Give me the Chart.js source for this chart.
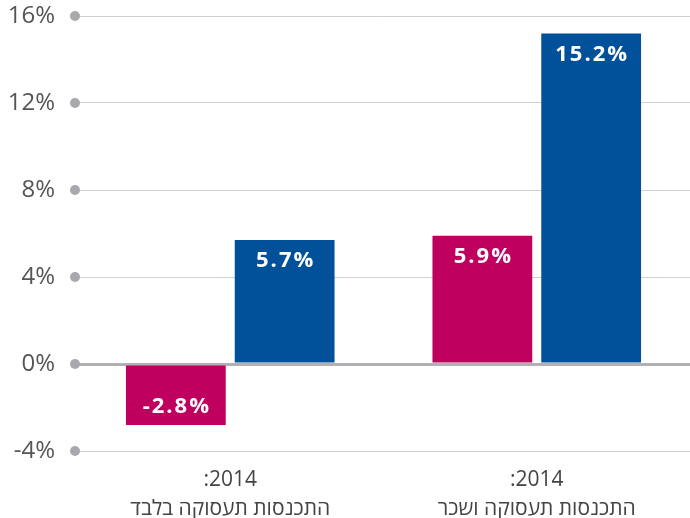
<!DOCTYPE html>
<html>
<head>
<meta charset="utf-8">
<script src="https://cdn.jsdelivr.net/npm/chart.js@4/dist/chart.umd.min.js"></script>
<style>
  html, body { margin: 0; padding: 0; background: #fff; }
  #wrap { width: 690px; height: 518px; position: relative; }
</style>
</head>
<body>
<div id="wrap"><canvas id="chart"></canvas></div>
<script>
/* ── Data ── */
const categories = [
  [":2014", "התכנסות תעסוקה בלבד"],
  [":2014", "התכנסות תעסוקה ושכר"]
];
const magentaValues = [-2.8, 5.9];
const blueValues = [5.7, 15.2];
const yTicks = [-4, 0, 4, 8, 12, 16];

const FONT = "'Open Sans', 'Noto Sans', 'DejaVu Sans', sans-serif";

/* ── Grey dots at the left end of each gridline ── */
const dotPlugin = {
  id: "dots",
  afterDraw(chart) {
    const { ctx, chartArea, scales } = chart;
    ctx.save();
    ctx.fillStyle = "#a9a9ad";
    yTicks.forEach(v => {
      const y = scales.y.getPixelForValue(v);
      ctx.beginPath();
      ctx.arc(chartArea.left - 2, y, 5, 0, Math.PI * 2);
      ctx.fill();
    });
    ctx.restore();
  }
};

/* ── Value labels inside bar ends ── */
const labelPlugin = {
  id: "barLabels",
  afterDatasetsDraw(chart) {
    const { ctx } = chart;
    ctx.save();
    ctx.fillStyle = "#fff";
    ctx.font = "bold 22px " + FONT;
    ctx.letterSpacing = "2px";
    ctx.textAlign = "center";
    ctx.textBaseline = "middle";
    chart.data.datasets.forEach((ds, i) => {
      chart.getDatasetMeta(i).data.forEach((bar, j) => {
        const v = ds.data[j];
        const y = v >= 0 ? bar.y + 21 : bar.y - 18;
        ctx.fillText(v.toFixed(1) + "%", bar.x + 1, y);
      });
    });
    ctx.restore();
  }
};

new Chart(document.getElementById("chart"), {
  type: "bar",
  data: {
    labels: categories,
    datasets: [
      { data: magentaValues, backgroundColor: "#c0005f", categoryPercentage: 0.71, barPercentage: 0.917 },
      { data: blueValues, backgroundColor: "#00519a", categoryPercentage: 0.71, barPercentage: 0.917 }
    ]
  },
  options: {
    responsive: true,
    maintainAspectRatio: false,
    animation: false,
    layout: { padding: { top: 16, right: 0, bottom: 0, left: 0 } },
    plugins: { legend: { display: false }, tooltip: { enabled: false } },
    scales: {
      x: {
        afterFit(scale) { scale.height = 67; },
        grid: { display: false, drawTicks: false },
        border: { display: false },
        ticks: {
          color: "#444",
          font: { family: FONT, size: 21, lineHeight: 1.35 },
          padding: 15,
          maxRotation: 0
        }
      },
      y: {
        min: -4,
        max: 16,
        afterFit(scale) {
          scale.width = 77;
          scale.paddingTop = 0;
          scale.paddingBottom = 0;
        },
        afterBuildTicks(scale) { scale.ticks = yTicks.map(v => ({ value: v })); },
        border: { display: false },
        grid: {
          drawTicks: false,
          color: ctx => ctx.tick && ctx.tick.value === 0 ? "#b0b0b5" : "#cfcfcf",
          lineWidth: ctx => ctx.tick && ctx.tick.value === 0 ? 3 : 1
        },
        ticks: {
          color: "#555",
          font: { family: FONT, size: 24 },
          padding: 22,
          callback: v => v + "%"
        }
      }
    }
  },
  plugins: [dotPlugin, labelPlugin]
});
</script>
</body>
</html>
